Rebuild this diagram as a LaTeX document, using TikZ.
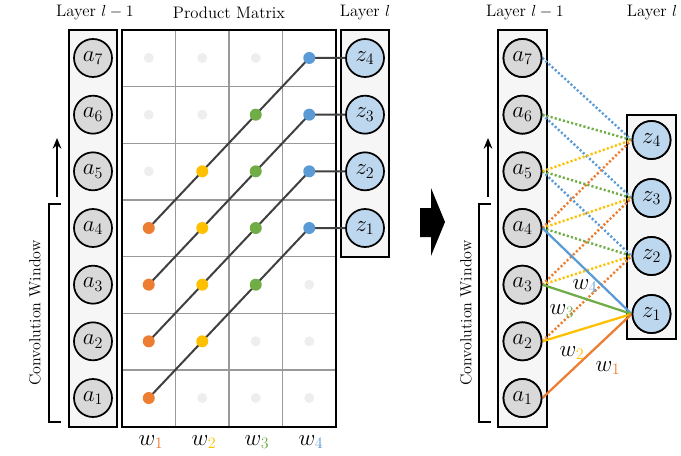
\documentclass[tikz,border=0pt]{standalone}
\usepackage{xcolor}
\usetikzlibrary{arrows.meta}
\definecolor{corange}{HTML}{ED7D31}
\definecolor{cyellow}{HTML}{FFC000}
\definecolor{cgreen}{HTML}{70AD47}
\definecolor{cblue}{HTML}{5B9BD5}
\definecolor{zfill}{HTML}{BDD7EE}
\definecolor{afill}{HTML}{D9D9D9}
\definecolor{colbg}{HTML}{F6F6F6}
\definecolor{dotgrey}{HTML}{EEEEEE}
\definecolor{gridgrey}{HTML}{999999}
\definecolor{linegrey}{HTML}{404040}
\begin{document}
\begin{tikzpicture}[x=0.75pt,y=-0.75pt,
  title/.style={font=\fontsize{12.5}{14}\selectfont},
  colbox/.style={draw,line width=1.1pt,fill=colbg},
  anode/.style={circle,draw,line width=1.3pt,fill=afill,minimum size=28.5pt,inner sep=0pt,font=\fontsize{16.5}{18}\selectfont},
  znode/.style={anode,fill=zfill},
  pdot/.style={circle,fill=#1,minimum size=9pt,inner sep=0pt},
  gdot/.style={circle,fill=dotgrey,minimum size=7.5pt,inner sep=0pt},
  diag/.style={draw=linegrey,line width=1.5pt},
  dotl/.style={draw=#1,line width=1.8pt,dash pattern=on 1.6pt off 1.6pt},
  soll/.style={draw=#1,line width=1.7pt},
  wlab/.style={font=\fontsize{16.5}{18}\selectfont,inner sep=0pt},
  brack/.style={line width=1.1pt},
  uparrow/.style={line width=1.4pt,-{Stealth[length=8pt,width=6.5pt]}},
  cwtext/.style={rotate=90,font=\fontsize{12}{14}\selectfont}
]
\useasboundingbox (0,0) rectangle (681,455);

% ================= LEFT PART =================
\node[title] (tL1) at (95,13) {Layer $l-1$};
\node[title] (tPM) at (229,13) {Product Matrix};
\node[title] (tL2) at (365,13) {Layer $l$};

% a column
\draw[colbox] (69,30) rectangle (117,427);
\foreach \i in {1,...,7}{
  \node[anode] (L\i) at (93,{398-(\i-1)*56.67}) {$a_{\i}$};
}

% grid
\foreach \k in {1,...,6}{
  \draw[gridgrey,line width=1.1pt] (122,{30+\k*56.67}) -- (336,{30+\k*56.67});
}
\foreach \k in {1,2,3}{
  \draw[gridgrey,line width=1.1pt] ({122+\k*53.5},30) -- ({122+\k*53.5},427);
}
\draw[line width=1.4pt] (122,30) rectangle (336,427);

% z column
\draw[colbox] (341,30) rectangle (389,257);
\foreach \j in {1,...,4}{
  \node[znode] (Z\j) at (365,{228-(\j-1)*56.67}) {$z_{\j}$};
}

% dots (column c, row r)
\foreach \c in {1,...,4}{
  \foreach \r in {1,...,7}{
    \coordinate (d\c-\r) at ({148.75+(\c-1)*53.5},{398-(\r-1)*56.67});
  }
}
% grey dots
\foreach \c/\r in {1/5,1/6,1/7,2/1,2/6,2/7,3/1,3/2,3/7,4/1,4/2,4/3}{
  \node[gdot] (g\c-\r) at (d\c-\r) {};
}
% diagonal lines
\foreach \k [evaluate=\k as \kk using int(\k+3)] in {1,...,4}{
  \draw[diag] (d1-\k) -- (d4-\kk);
  \draw[diag] (d4-\kk) -- (Z\k);
}
% coloured dots
\foreach \k in {1,...,4}{
  \node[pdot=corange] (o\k) at (d1-\k) {};
}
\foreach \k in {2,...,5}{
  \node[pdot=cyellow] (y\k) at (d2-\k) {};
}
\foreach \k in {3,...,6}{
  \node[pdot=cgreen] (n\k) at (d3-\k) {};
}
\foreach \k in {4,...,7}{
  \node[pdot=cblue] (b\k) at (d4-\k) {};
}

% w labels
\node[wlab] (w1) at (151,442) {$w_{\color{corange}1}$};
\node[wlab] (w2) at (204,442) {$w_{\color{cyellow}2}$};
\node[wlab] (w3) at (257,442) {$w_{\color{cgreen}3}$};
\node[wlab] (w4) at (311,442) {$w_{\color{cblue}4}$};

% convolution window
\coordinate (bt) at (61,204);
\coordinate (bb) at (61,422);
\draw[brack] (bt) -- (49,204) -- (49,422) -- (bb);
\node[cwtext] (cw1) at (35,313) {Convolution Window};
\coordinate (ua1) at (57,197);
\coordinate (ua2) at (57,138);
\draw[uparrow] (ua1) -- (ua2);

% ================= BIG ARROW =================
\fill (420,208) -- (431,208) -- (431,188) -- (445,222) -- (431,256) -- (431,237) -- (420,237) -- cycle;

% ================= RIGHT PART =================
\node[title] (tR1) at (525,13) {Layer $l-1$};
\node[title] (tR2) at (652,13) {Layer $l$};

\draw[colbox] (498,30) rectangle (547,427);
\draw[colbox] (627,115) rectangle (676,339);

\foreach \i in {1,...,7}{
  \coordinate (Rc\i) at (522.5,{398-(\i-1)*56.67});
}
\foreach \j in {1,...,4}{
  \coordinate (Yc\j) at (651.5,{314-(\j-1)*58});
}
\foreach \i in {1,...,7}{
  \node[anode] (R\i) at (Rc\i) {$a_{\i}$};
}
\foreach \j in {1,...,4}{
  \node[znode] (Y\j) at (Yc\j) {$z_{\j}$};
}

% dotted connections
\foreach \j in {2,3,4}{
  \pgfmathtruncatemacro{\ia}{\j}
  \pgfmathtruncatemacro{\ib}{\j+1}
  \pgfmathtruncatemacro{\ic}{\j+2}
  \pgfmathtruncatemacro{\id}{\j+3}
  \draw[dotl=cblue] (R\id.east) -- (Y\j.west);
  \draw[dotl=cgreen] (R\ic.east) -- (Y\j.west);
  \draw[dotl=cyellow] (R\ib.east) -- (Y\j.west);
  \draw[dotl=corange] (R\ia.east) -- (Y\j.west);
}
% solid connections to z1
\draw[soll=cblue] (R4.east) -- (Y1.west);
\draw[soll=cgreen] (R3.east) -- (Y1.west);
\draw[soll=cyellow] (R2.east) -- (Y1.west);
\draw[soll=corange] (R1.east) -- (Y1.west);

\node[wlab] (rw4) at (585,286) {$w_{\color{cblue}4}$};
\node[wlab] (rw3) at (562,311) {$w_{\color{cgreen}3}$};
\node[wlab] (rw2) at (572,353) {$w_{\color{cyellow}2}$};
\node[wlab] (rw1) at (608,368) {$w_{\color{corange}1}$};

% redraw nodes on top
\foreach \i in {1,...,7}{
  \node[anode] at (R\i) {$a_{\i}$};
}
\foreach \j in {1,...,4}{
  \node[znode] at (Y\j) {$z_{\j}$};
}

% convolution window right
\coordinate (rbt) at (491,204);
\coordinate (rbb) at (491,422);
\draw[brack] (rbt) -- (479,204) -- (479,422) -- (rbb);
\node[cwtext] (cw2) at (466,313) {Convolution Window};
\coordinate (ub1) at (488,197);
\coordinate (ub2) at (488,138);
\draw[uparrow] (ub1) -- (ub2);
\end{tikzpicture}
\end{document}
